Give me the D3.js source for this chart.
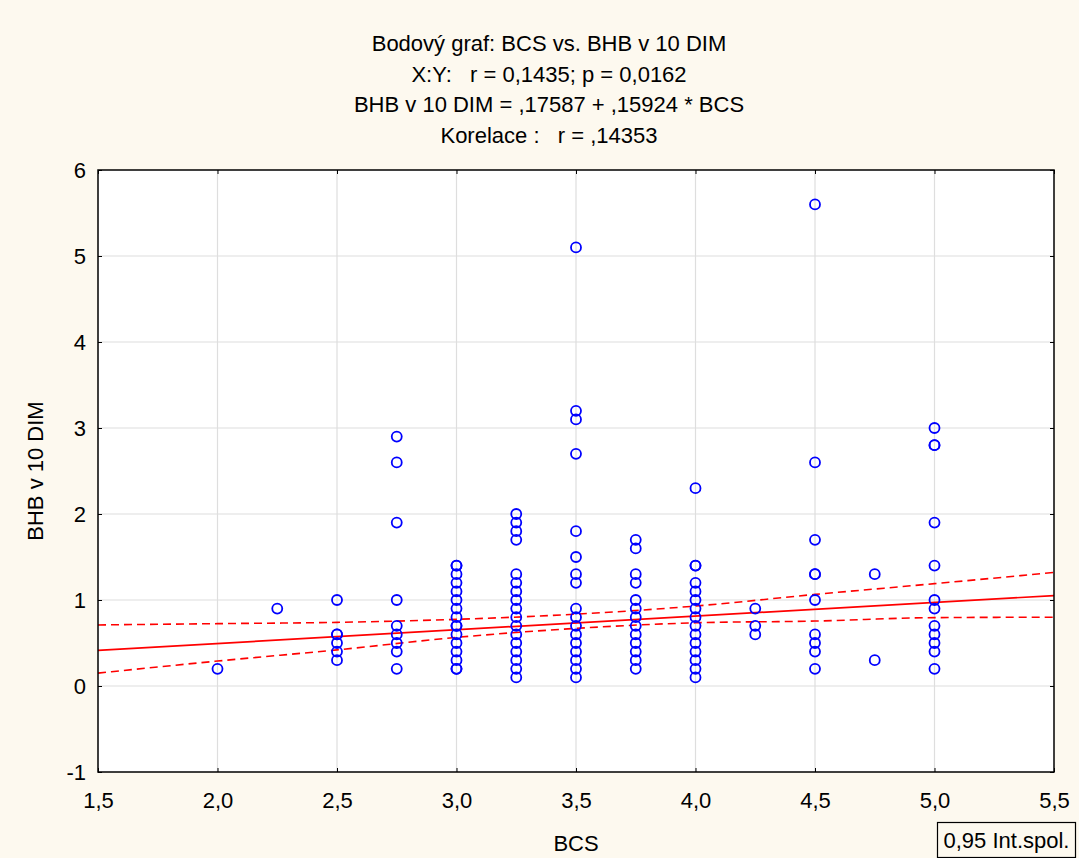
<!DOCTYPE html>
<html>
<head>
<meta charset="utf-8">
<script src="https://cdn.jsdelivr.net/npm/d3@7.9.0/dist/d3.min.js"></script>
<style>
  body { margin: 0; background: #fdf9ef; }
  svg { display: block; font-family: "Liberation Sans", Arial, sans-serif; }
</style>
</head>
<body>
<svg id="chart" width="1079" height="858"></svg>
<script>
// title lines
const titleLines = [
  "Bodový graf: BCS vs. BHB v 10 DIM",
  "X:Y:   r = 0,1435; p = 0,0162",
  "BHB v 10 DIM = ,17587 + ,15924 * BCS",
  "Korelace :   r = ,14353"
];

// BCS levels and BHB values observed at each level
const bcsLevels = [2.0, 2.25, 2.5, 2.75, 3.0, 3.25, 3.5, 3.75, 4.0, 4.25, 4.5, 4.75, 5.0];
const bhbValues = [
  [0.2],
  [0.9],
  [1.0, 0.6, 0.6, 0.5, 0.4, 0.3],
  [2.9, 2.6, 1.9, 1.0, 0.7, 0.6, 0.5, 0.4, 0.2],
  [1.4, 1.4, 1.3, 1.2, 1.1, 1.0, 0.9, 0.8, 0.7, 0.7, 0.6, 0.5, 0.4, 0.3, 0.2, 0.2],
  [2.0, 1.9, 1.8, 1.7, 1.3, 1.2, 1.1, 1.0, 0.9, 0.8, 0.7, 0.6, 0.5, 0.4, 0.3, 0.2, 0.1],
  [5.1, 3.2, 3.1, 2.7, 1.8, 1.5, 1.3, 1.2, 0.9, 0.8, 0.7, 0.6, 0.5, 0.4, 0.3, 0.2, 0.1],
  [1.7, 1.6, 1.3, 1.2, 1.0, 0.9, 0.8, 0.7, 0.6, 0.5, 0.4, 0.3, 0.2],
  [2.3, 1.4, 1.4, 1.2, 1.1, 1.0, 0.9, 0.8, 0.7, 0.6, 0.5, 0.4, 0.3, 0.2, 0.1],
  [0.9, 0.7, 0.6],
  [5.6, 2.6, 1.7, 1.3, 1.3, 1.0, 0.6, 0.5, 0.4, 0.2],
  [1.3, 0.3],
  [3.0, 2.8, 2.8, 1.9, 1.4, 1.0, 0.9, 0.7, 0.6, 0.5, 0.4, 0.2]
];

// regression line
const intercept = 0.17587;
const slope = 0.15924;

// 0.95 confidence band
const bandX = [1.5, 2.0, 2.5, 3.0, 3.5, 4.0, 4.5, 5.0, 5.5];
const bandUpper = [0.71, 0.725, 0.74, 0.775, 0.835, 0.93, 1.065, 1.19, 1.32];
const bandLower = [0.15, 0.29, 0.42, 0.565, 0.67, 0.735, 0.755, 0.795, 0.80];

// ticks
const xTicks = [1.5, 2.0, 2.5, 3.0, 3.5, 4.0, 4.5, 5.0, 5.5];
const yTicks = [-1, 0, 1, 2, 3, 4, 5, 6];

const svg = d3.select("#chart");
const pLeft = 98, pRight = 1054, pTop = 170, pBottom = 772;

const x = d3.scaleLinear().domain([1.5, 5.5]).range([pLeft, pRight]);
const y = d3.scaleLinear().domain([-1, 6]).range([pBottom, pTop]);
const comma = (d) => d3.format(".1f")(d).replace(".", ",");

// plot background
svg.append("rect")
  .attr("x", pLeft).attr("y", pTop)
  .attr("width", pRight - pLeft).attr("height", pBottom - pTop)
  .attr("fill", "#ffffff");

// grid
svg.append("g")
  .selectAll("line")
  .data(xTicks.slice(1, -1))
  .join("line")
  .attr("x1", (d) => x(d)).attr("x2", (d) => x(d))
  .attr("y1", pTop).attr("y2", pBottom)
  .attr("stroke", "#dedede").attr("stroke-width", 1.2);
svg.append("g")
  .selectAll("line")
  .data(yTicks.slice(1, -1))
  .join("line")
  .attr("x1", pLeft).attr("x2", pRight)
  .attr("y1", (d) => y(d)).attr("y2", (d) => y(d))
  .attr("stroke", "#dedede").attr("stroke-width", 1.2);

// axes with inward ticks
svg.append("g")
  .attr("transform", `translate(0,${pBottom})`)
  .call(d3.axisBottom(x).tickValues(xTicks).tickSize(-4).tickFormat(comma).tickPadding(20))
  .call((g) => g.select(".domain").remove())
  .call((g) => g.selectAll("text").attr("font-size", 22).attr("fill", "#000"));
svg.append("g")
  .attr("transform", `translate(0,${pTop})`)
  .call(d3.axisTop(x).tickValues(xTicks).tickSize(-4).tickFormat(""))
  .call((g) => g.select(".domain").remove());
svg.append("g")
  .attr("transform", `translate(${pLeft},0)`)
  .call(d3.axisLeft(y).tickValues(yTicks).tickSize(-4).tickFormat((d) => String(d)).tickPadding(12))
  .call((g) => g.select(".domain").remove())
  .call((g) => g.selectAll("text").attr("font-size", 22).attr("fill", "#000"));
svg.append("g")
  .attr("transform", `translate(${pRight},0)`)
  .call(d3.axisRight(y).tickValues(yTicks).tickSize(-4).tickFormat(""))
  .call((g) => g.select(".domain").remove());

// confidence band
const band = (vals) => d3.line()
  .x((d, i) => x(bandX[i]))
  .y((d) => y(d))
  .curve(d3.curveMonotoneX)(vals);
[bandUpper, bandLower].forEach((vals) => {
  svg.append("path")
    .attr("d", band(vals))
    .attr("fill", "none")
    .attr("stroke", "#ff0000")
    .attr("stroke-width", 1.6)
    .attr("stroke-dasharray", "8,5");
});

// fitted line
svg.append("line")
  .attr("x1", x(1.5)).attr("y1", y(intercept + slope * 1.5))
  .attr("x2", x(5.5)).attr("y2", y(intercept + slope * 5.5))
  .attr("stroke", "#ff0000").attr("stroke-width", 1.7);

// points
const points = bcsLevels.flatMap((b, i) => bhbValues[i].map((v) => ({ bcs: b, bhb: v })));
svg.append("g")
  .selectAll("circle")
  .data(points)
  .join("circle")
  .attr("cx", (d) => x(d.bcs))
  .attr("cy", (d) => y(d.bhb))
  .attr("r", 5)
  .attr("fill", "none")
  .attr("stroke", "#0000ff")
  .attr("stroke-width", 1.8);

// frame
svg.append("rect")
  .attr("x", pLeft).attr("y", pTop)
  .attr("width", pRight - pLeft).attr("height", pBottom - pTop)
  .attr("fill", "none").attr("stroke", "#000").attr("stroke-width", 1.5);

// titles
svg.append("g")
  .selectAll("text")
  .data(titleLines)
  .join("text")
  .attr("x", 549)
  .attr("y", (d, i) => 51 + i * 30.5)
  .attr("text-anchor", "middle")
  .attr("font-size", 22)
  .style("white-space", "pre")
  .text((d) => d);

// axis labels
svg.append("text")
  .attr("x", (pLeft + pRight) / 2).attr("y", 851)
  .attr("text-anchor", "middle").attr("font-size", 22)
  .text("BCS");
svg.append("text")
  .attr("transform", `translate(43,${(pTop + pBottom) / 2}) rotate(-90)`)
  .attr("text-anchor", "middle").attr("font-size", 22)
  .text("BHB v 10 DIM");

// legend box
svg.append("rect")
  .attr("x", 937.5).attr("y", 822.5).attr("width", 138).attr("height", 35)
  .attr("fill", "#fdf9ef").attr("stroke", "#000").attr("stroke-width", 1.2);
svg.append("text")
  .attr("x", 1006.5).attr("y", 848)
  .attr("text-anchor", "middle").attr("font-size", 22)
  .text("0,95 Int.spol.");
</script>
</body>
</html>
